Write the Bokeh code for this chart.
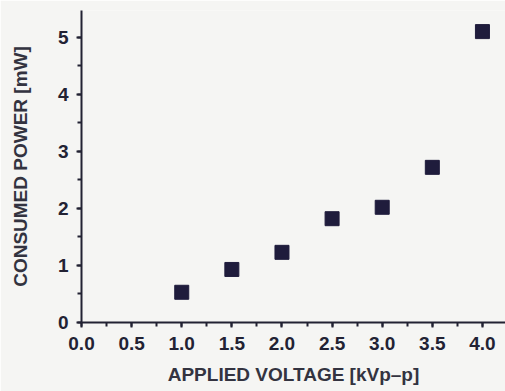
from bokeh.plotting import figure
from bokeh.models import Range1d, SingleIntervalTicker, PrintfTickFormatter
from bokeh.embed import file_html
from bokeh.resources import INLINE

voltage = [1.0, 1.5, 2.0, 2.5, 3.0, 3.5, 4.0]
power = [0.53, 0.93, 1.23, 1.82, 2.02, 2.72, 5.1]

p = figure(width=505, height=391, output_backend="svg", toolbar_location=None,
           x_range=Range1d(0, 4.23), y_range=Range1d(0, 5.47),
           min_border_left=81, min_border_right=0, min_border_top=10, min_border_bottom=69)
p.background_fill_color = "#f5f5f3"
p.border_fill_color = "#f5f5f3"
p.outline_line_color = None
p.grid.visible = False

p.scatter(voltage, power, marker="square", size=14, fill_color="#1f1c3c", line_color="#1f1c3c")

p.xaxis.ticker = SingleIntervalTicker(interval=0.5, num_minor_ticks=2)
p.yaxis.ticker = SingleIntervalTicker(interval=1, num_minor_ticks=2)
p.xaxis.formatter = PrintfTickFormatter(format="%.1f")

for ax in (p.xaxis[0], p.yaxis[0]):
    ax.axis_line_color = "#222233"
    ax.axis_line_width = 2
    ax.major_tick_line_color = "#222233"
    ax.minor_tick_line_color = "#222233"
    ax.major_tick_line_width = 2
    ax.minor_tick_line_width = 2
    ax.major_tick_out = 5
    ax.major_tick_in = 0
    ax.minor_tick_out = 4
    ax.minor_tick_in = 0
    ax.major_label_text_font = "Liberation Sans"
    ax.major_label_text_font_style = "bold"
    ax.major_label_text_font_size = "19px"
    ax.major_label_text_color = "#222233"
    ax.axis_label_text_font = "Liberation Sans"
    ax.axis_label_text_font_style = "bold"
    ax.axis_label_text_font_size = "19px"
    ax.axis_label_text_color = "#333340"

p.xaxis.axis_label = "APPLIED VOLTAGE [kVp\u2013p]"
p.yaxis.axis_label = "CONSUMED POWER [mW]"
p.xaxis.major_label_standoff = 9
p.yaxis.major_label_standoff = 8
p.xaxis.axis_label_standoff = 11
p.yaxis.axis_label_standoff = 24

open("out.html", "w").write(file_html(p, INLINE))
